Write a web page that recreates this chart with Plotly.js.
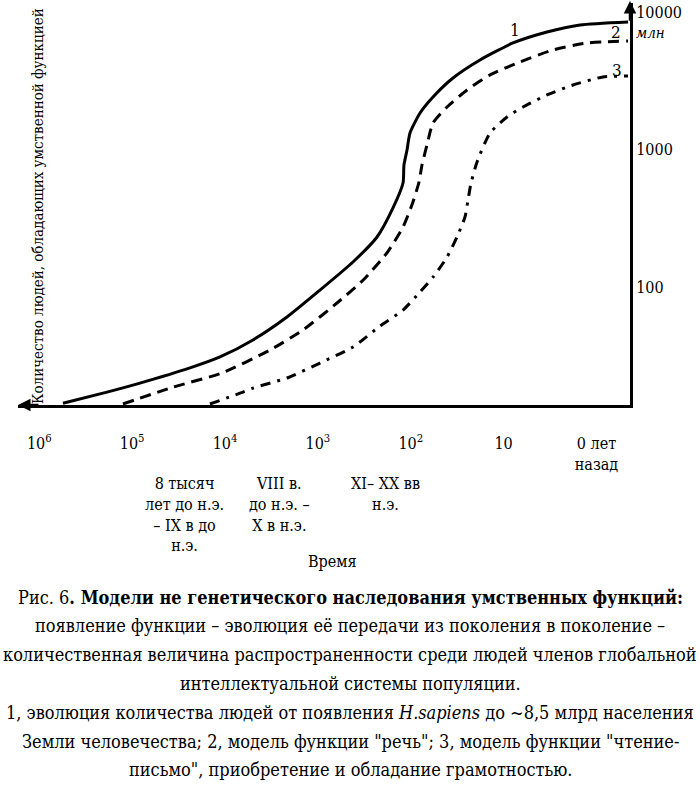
<!DOCTYPE html>
<html>
<head>
<meta charset="utf-8">
<script src="https://cdn.plot.ly/plotly-3.0.1.min.js"></script>
<style>
  html, body { margin: 0; padding: 0; background: #fff; }
  #chart { width: 700px; height: 795px; }
</style>
</head>
<body>
<div id="chart"></div>
<script>
// x: log10(years ago), y: millions of people (log scale)
const curve1X = [5.745, 5.271, 4.916, 4.377, 4.054, 3.699, 3.333, 2.977, 2.622, 2.363, 2.191, 2.083, 2.073, 2.040, 2.008, 1.900, 1.760, 1.545, 1.254, 0.899, 0.533, 0.177, -0.340];
const curve1Y = [14.3, 17.2, 20.0, 25.8, 31.0, 41.2, 60.5, 95, 152, 231, 376, 570, 771, 992, 1318, 1842, 2410, 3311, 4477, 5950, 7152, 8044, 8460];

const curve2X = [5.099, 4.560, 4.033, 3.516, 3.160, 2.794, 2.514, 2.256, 2.083, 1.976, 1.911, 1.879, 1.825, 1.760, 1.609, 1.394, 1.146, 0.823, 0.468, 0.102, -0.340];
const curve2Y = [14.1, 18.7, 23.7, 34.8, 48.7, 76.5, 112, 177, 273, 415, 580, 771, 1079, 1560, 2037, 2708, 3483, 4330, 5290, 5950, 6153];

const curve3X = [4.162, 3.839, 3.699, 3.333, 2.977, 2.622, 2.331, 2.083, 1.900, 1.760, 1.609, 1.502, 1.416, 1.383, 1.351, 1.286, 1.146, 0.963, 0.791, 0.533, 0.253, -0.070, -0.340];
const curve3Y = [14.1, 16.9, 18.4, 21.8, 28.0, 36.6, 52.0, 68.0, 92, 118, 165, 231, 323, 430, 570, 811, 1318, 1723, 2037, 2490, 2944, 3367, 3425];

const xTickVals = [6, 5, 4, 3, 2, 1, 0];
const xTickText = ['10<sup>6</sup>', '10<sup>5</sup>', '10<sup>4</sup>', '10<sup>3</sup>', '10<sup>2</sup>', '10', '0 лет<br>назад'];
const yTickVals = [100, 1000, 10000];
const yTickText = ['100', '1000', '10000'];

const curveLabels = ['1', '2', '3'];
const periodX = [4.431, 3.408, 2.277];
const periodText = ['8 тысяч<br>лет до н.э.<br>– IX в до<br>н.э.', 'VIII в.<br>до н.э. –<br>X в н.э.', 'XI– XX вв<br>н.э.'];

const yTitle = 'Количество людей, обладающих умственной функцией';
const xTitle = 'Время';
const unitLabel = 'млн';
const captionLines = [
  'Рис. 6<b>. Модели не генетического наследования умственных функций:</b>',
  'появление функции – эволюция её передачи из поколения в поколение –',
  'количественная величина распространенности среди людей членов глобальной',
  'интеллектуальной системы популяции.',
  '1, эволюция количества людей от появления <i>H.sapiens</i> до ~8,5 млрд населения',
  'Земли человечества; 2, модель функции "речь"; 3, модель функции "чтение-',
  'письмо", приобретение и обладание грамотностью.'
];

const FONT = 'DejaVu Serif Condensed';
const W = 700, H = 795;
const M = {l: 18, r: 70, t: 3, b: 390};
const plotH = H - M.t - M.b;
const plotW = W - M.l - M.r;
const py = p => (H - M.b - p) / plotH;   // pixel y -> paper y
const px = p => (p - M.l) / plotW;       // pixel x -> paper x

const traces = [
  {x: curve1X, y: curve1Y, mode: 'lines', line: {color: '#000', width: 3, shape: 'spline', smoothing: 0.6}, hoverinfo: 'skip'},
  {x: curve2X, y: curve2Y, mode: 'lines', line: {color: '#000', width: 3, dash: '11px,7px', shape: 'spline', smoothing: 0.6}, hoverinfo: 'skip'},
  {x: curve3X, y: curve3Y, mode: 'lines', line: {color: '#000', width: 3, dash: '10px,7px,3px,7px', shape: 'spline', smoothing: 0.6}, hoverinfo: 'skip'}
];

const txt = (x, y, text, size, extra) => Object.assign({
  xref: 'paper', yref: 'paper', x: x, y: y, text: text, showarrow: false,
  xanchor: 'center', yanchor: 'middle',
  font: {family: FONT, size: size, color: '#000'}
}, extra || {});

const annotations = [];
// arrows
annotations.push({xref: 'paper', yref: 'paper', x: 0, y: 0, ax: 22, ay: 0, showarrow: true, arrowhead: 2, arrowsize: 1, arrowwidth: 2.5, arrowcolor: '#000', text: ''});
annotations.push({xref: 'paper', yref: 'paper', x: 1, y: 1.007, ax: 0, ay: 22, showarrow: true, arrowhead: 2, arrowsize: 1, arrowwidth: 2.5, arrowcolor: '#000', text: ''});
// y title
annotations.push(txt(px(38), py(206), yTitle, 15, {textangle: -90}));
// unit
annotations.push(txt(px(634), py(33), '<i>' + unitLabel + '</i>', 15, {xanchor: 'left'}));
// curve labels
const labelPos = [[515, 30], [616, 32], [617, 70]];
curveLabels.forEach((t, i) => annotations.push(txt(px(labelPos[i][0]), py(labelPos[i][1]), t, 17)));
// period labels
periodText.forEach((t, i) => annotations.push(txt(periodX[i], py(472), t, 16, {xref: 'x', yanchor: 'top', align: 'center'})));
// x title
annotations.push(txt(px(333), py(561), xTitle, 16));
// caption
captionLines.forEach((t, i) => annotations.push(txt(px(350), py(597 + i * 28.8), t, 18)));

const layout = {
  width: W, height: H,
  margin: M,
  paper_bgcolor: '#fff', plot_bgcolor: '#fff',
  showlegend: false,
  font: {family: FONT, color: '#000', size: 16},
  xaxis: {
    type: 'linear', range: [6.229, -0.361],
    tickvals: xTickVals, ticktext: xTickText,
    showgrid: false, zeroline: false,
    showline: true, linecolor: '#000', linewidth: 3,
    ticks: 'outside', ticklen: 22, tickcolor: 'rgba(0,0,0,0)',
    tickfont: {family: FONT, size: 16, color: '#000'}
  },
  yaxis: {
    type: 'log', range: [1.142, 4.065], side: 'right',
    tickvals: yTickVals, ticktext: yTickText,
    showgrid: false, zeroline: false,
    showline: true, linecolor: '#000', linewidth: 3,
    ticks: '', tickfont: {family: FONT, size: 16, color: '#000'}
  },
  annotations: annotations
};

Plotly.newPlot('chart', traces, layout, {staticPlot: true, displayModeBar: false});
</script>
</body>
</html>
